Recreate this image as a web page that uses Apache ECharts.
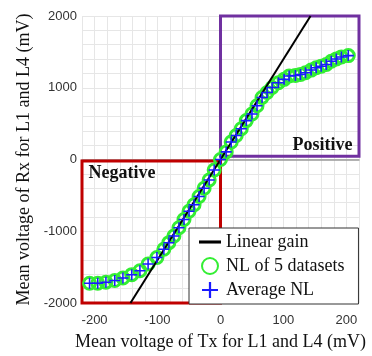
<!DOCTYPE html>
<html lang="en">
<head>
    <meta charset="UTF-8">
    <title>NL</title>
    <script src="https://cdn.jsdelivr.net/npm/echarts@6/dist/echarts.min.js"></script>
</head>
<body style="margin:0">
<div id="main" style="width: 372px; height: 356px"></div>
<script type="text/javascript">
    // Average NL (mV)
    var nlX = [-208, -195, -182, -168, -155, -141, -128, -115, -101, -90, -82, -74, -66, -58, -50, -42, -34, -26, -18, -10,
        0, 9, 17, 25, 33, 41, 50, 58, 66, 74, 82, 92, 101, 109, 119, 127, 135, 144, 152, 160, 168, 176, 184, 192, 203];
    var nlY = [-1724, -1724, -1710, -1687, -1651, -1605, -1550, -1457, -1366, -1251, -1159, -1067, -952, -837, -722, -630, -515, -400, -285, -147,
        0, 106, 244, 335, 428, 542, 634, 749, 865, 934, 1003, 1071, 1117, 1163, 1172, 1186, 1209, 1246, 1278, 1301, 1324, 1370, 1402, 1430, 1448];
    // linear gain end points
    var linX = [-143, 143];
    var linY = [-2000, 2000];
    // highlighted regions [x0, y0, x1, y1]
    var negBox = [-220, -2000, 0, -20];
    var posBox = [0, 45, 220, 2000];

    var pts = nlX.map(function (x, i) { return [x, nlY[i]]; });
    var lin = linX.map(function (x, i) { return [x, linY[i]]; });
    var serif = 'Liberation Serif';
    var plus = 'path://M4.3,0H5.7V4.3H10V5.7H5.7V10H4.3V5.7H0V4.3H4.3Z';

    var myChart = echarts.init(document.getElementById('main'));
    var option = {
        animation: false,
        backgroundColor: '#fff',
        grid: {left: 82, right: 13, top: 16, bottom: 50},
        legend: {
            orient: 'vertical',
            left: 189, top: 228,
            padding: [5, 14, 5, 10],
            itemGap: 6,
            itemWidth: 22, itemHeight: 16,
            backgroundColor: '#fff',
            borderColor: '#333', borderWidth: 1, borderRadius: 0,
            textStyle: {fontFamily: serif, fontSize: 18, color: '#111'},
            data: [
                {name: 'Linear gain', icon: 'path://M0,0H10V1.4H0Z'},
                'NL of 5 datasets',
                'Average NL'
            ],
            z: 10
        },
        xAxis: {
            type: 'value', min: -220, max: 220, interval: 20,
            name: 'Mean voltage of Tx for L1 and L4 (mV)',
            nameLocation: 'middle', nameGap: 30,
            nameTextStyle: {fontFamily: serif, fontSize: 18, color: '#111'},
            axisLine: {lineStyle: {color: '#999', width: 1.5}},
            axisTick: {show: false},
            axisLabel: {
                margin: 11, fontFamily: 'Liberation Sans', fontSize: 13, color: '#333',
                formatter: function (v) { return v % 100 === 0 ? String(v) : ''; }
            },
            splitLine: {show: true, lineStyle: {color: '#e6e6e6', width: 1}}
        },
        yAxis: {
            type: 'value', min: -2000, max: 2000, interval: 200,
            name: 'Mean voltage of Rx for L1 and L4 (mV)',
            nameLocation: 'middle', nameGap: 36,
            nameTextStyle: {fontFamily: serif, fontSize: 18, color: '#111'},
            axisLine: {show: true, lineStyle: {color: '#999', width: 1.5}},
            axisTick: {show: false},
            axisLabel: {
                margin: 5, fontFamily: 'Liberation Sans', fontSize: 13, color: '#333',
                formatter: function (v) { return v % 1000 === 0 ? String(v) : ''; }
            },
            splitLine: {show: true, lineStyle: {color: '#e6e6e6', width: 1}}
        },
        series: [
            {
                name: 'NL of 5 datasets',
                type: 'scatter',
                data: pts,
                symbol: 'circle',
                symbolSize: 12,
                itemStyle: {color: 'rgba(0,0,0,0)', borderColor: '#33ee33', borderWidth: 3, opacity: 1},
                z: 3
            },
            {
                name: 'Linear gain',
                type: 'line',
                data: lin,
                symbol: 'none',
                lineStyle: {color: '#000', width: 2},
                itemStyle: {color: '#000'},
                z: 4,
                markArea: {
                    silent: true,
                    label: {
                        show: true, fontFamily: serif, fontWeight: 'bold', fontSize: 18, color: '#111'
                    },
                    data: [
                        [{
                            name: 'Negative', xAxis: negBox[0], yAxis: negBox[3],
                            itemStyle: {color: 'rgba(0,0,0,0)', borderColor: '#c00000', borderWidth: 3},
                            label: {position: 'insideTopLeft', distance: 5, offset: [3, 0]}
                        }, {xAxis: negBox[2], yAxis: negBox[1]}],
                        [{
                            name: 'Positive', xAxis: posBox[0], yAxis: posBox[3],
                            itemStyle: {color: 'rgba(0,0,0,0)', borderColor: '#7030a0', borderWidth: 3},
                            label: {position: 'insideBottomRight', distance: 5, offset: [-3, 2]}
                        }, {xAxis: posBox[2], yAxis: posBox[1]}]
                    ]
                }
            },
            {
                name: 'Average NL',
                type: 'scatter',
                data: pts,
                symbol: plus,
                symbolSize: 11,
                itemStyle: {color: '#1a1aff', opacity: 1},
                z: 5
            }
        ]
    };
    myChart.setOption(option);
</script>
</body>
</html>
